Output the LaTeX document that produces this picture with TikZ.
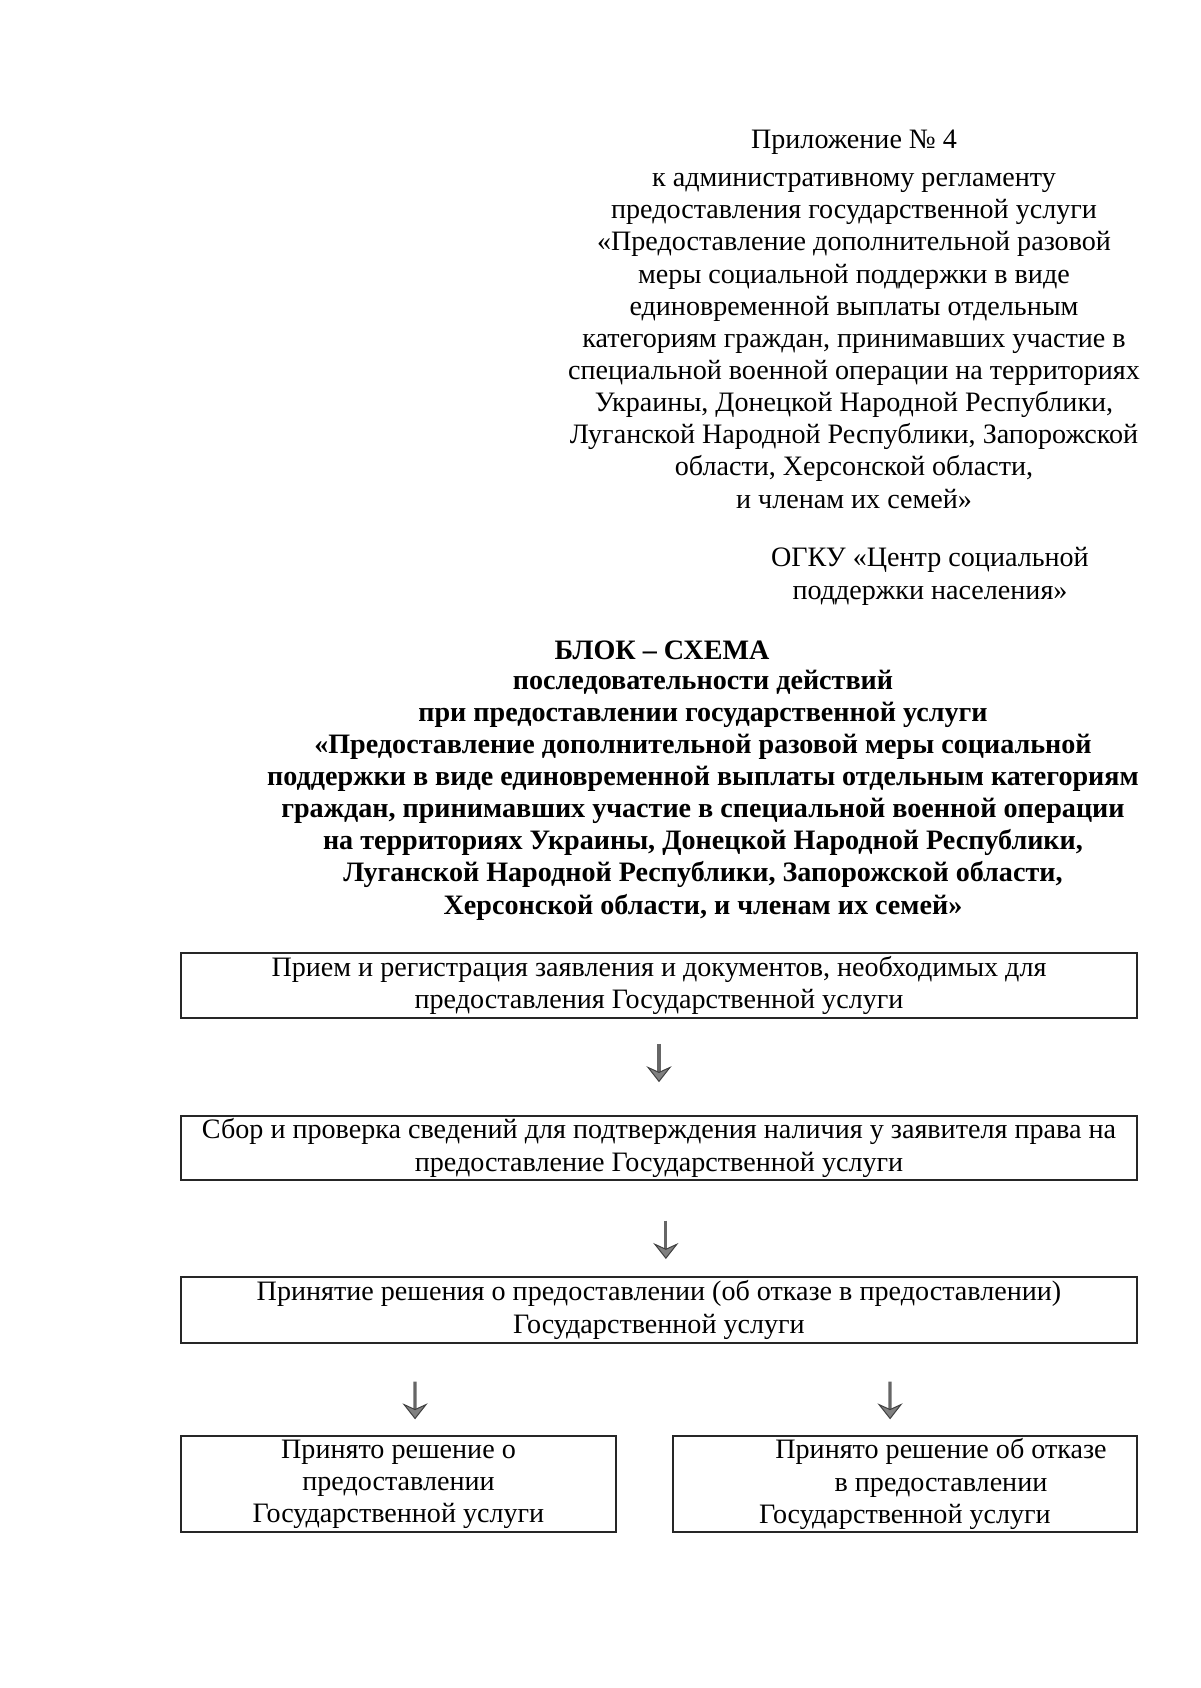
\documentclass[tikz,border=0pt]{standalone}
\usepackage{fontspec}
\setmainfont{Liberation Serif}
\usetikzlibrary{arrows.meta}
\tikzset{
	txt/.style={align=center,inner sep=0pt,font=\fontsize{14}{16}\selectfont},
	box/.style={txt,draw=black!85,line width=0.7pt},
	wide/.style={box,minimum width=16.73cm},
	half/.style={box,minimum height=1.68cm},
	flow/.style={draw=black!60,line width=1.6pt,
		-{Stealth[length=2.8mm,width=4.4mm,inset=1mm,fill=black!50,color=black!75,line width=0.5pt]}}
}
\begin{document}
\begin{tikzpicture}[x=0.0175cm,y=-0.0175cm]
	\useasboundingbox (0,0) rectangle (1200,1688);
	\node[txt,anchor=base] (app) at (854,149) {Приложение №~4};
	\node[txt,anchor=base] (reg) at (854,508) {к административному регламенту\\
		предоставления государственной услуги\\
		«Предоставление дополнительной разовой\\
		меры социальной поддержки в виде\\
		единовременной выплаты отдельным\\
		категориям граждан, принимавших участие в\\
		специальной военной операции на территориях\\
		Украины, Донецкой Народной Республики,\\
		Луганской Народной Республики, Запорожской\\
		области, Херсонской области,\\
		и членам их семей»};
	\node[txt,anchor=base] (org) at (930,599) {ОГКУ «Центр социальной\\ поддержки населения»};
	\node[txt,anchor=base,font=\fontsize{14}{16}\selectfont\bfseries] (ttl) at (662,659) {БЛОК – СХЕМА};
	\node[txt,anchor=base,font=\fontsize{14}{16}\selectfont\bfseries] (sub) at (703,914) {последовательности действий\\
		при предоставлении государственной услуги\\
		«Предоставление дополнительной разовой меры социальной\\
		поддержки в виде единовременной выплаты отдельным категориям\\
		граждан, принимавших участие в специальной военной операции\\
		на территориях Украины, Донецкой Народной Республики,\\
		Луганской Народной Республики, Запорожской области,\\
		Херсонской области, и членам их семей»};
	% steps
	\node[wide,minimum height=1.14cm] (b1) at (659,985.5) {Прием и регистрация заявления и документов, необходимых для\\ предоставления Государственной услуги};
	\node[wide,minimum height=1.12cm] (b2) at (659,1148) {Сбор и проверка сведений для подтверждения наличия у заявителя права на\\ предоставление Государственной услуги};
	\node[wide,minimum height=1.16cm] (b3) at (659,1310) {Принятие решения о предоставлении (об отказе в предоставлении)\\ Государственной услуги};
	\node[half,minimum width=7.61cm] (b4) at (398.5,1484) {Принято решение о\\ предоставлении\\ Государственной услуги};
	\node[half,minimum width=8.12cm] (b5) at (905,1484) {\hspace*{1.26cm}Принято решение об отказе\\ \hspace*{1.26cm}в предоставлении\\ Государственной услуги};
	\draw[flow,shorten <=0.44cm,shorten >=0.58cm] (b1) -- (b2);
	\draw[flow,shorten <=0.70cm,shorten >=0.30cm] ([xshift=0.12cm]b2.south) -- ([xshift=0.12cm]b3.north);
	\draw[flow,shorten <=0.66cm,shorten >=0.28cm] ([xshift=-4.27cm]b3.south) -- ([xshift=0.29cm]b4.north);
	\draw[flow,shorten <=0.66cm,shorten >=0.28cm] ([xshift=4.04cm]b3.south) -- ([xshift=-0.26cm]b5.north);
\end{tikzpicture}
\end{document}
